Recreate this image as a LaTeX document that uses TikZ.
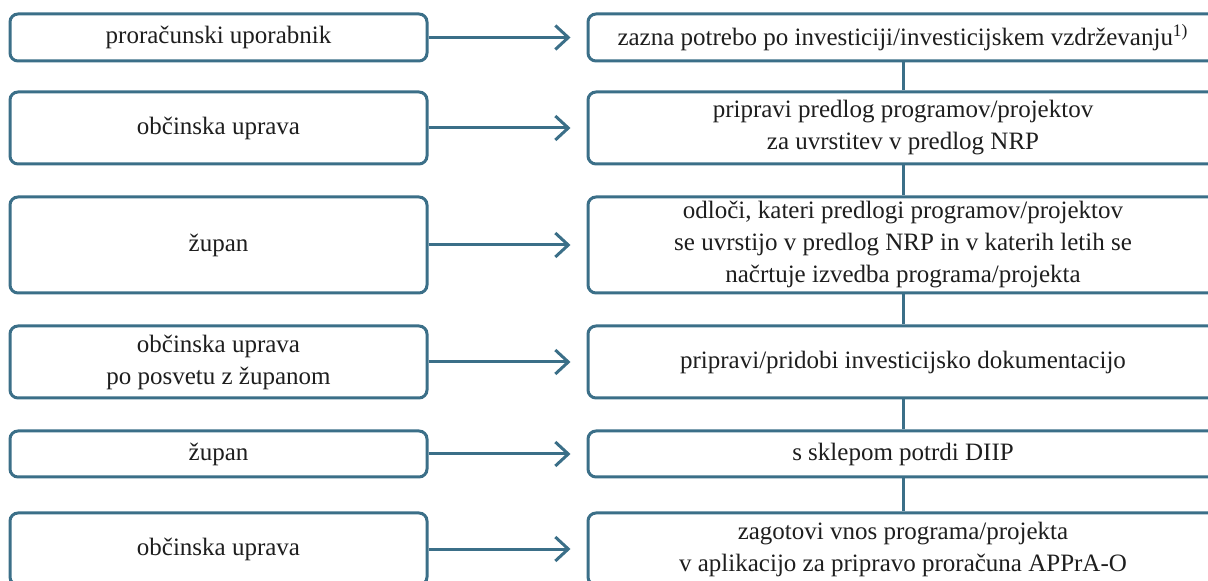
\documentclass[tikz,border=0pt]{standalone}
\usepackage{fontspec}
\setmainfont{Liberation Serif}
\usetikzlibrary{arrows.meta}
\definecolor{stepTeal}{HTML}{3B6F88}
\definecolor{inkGray}{HTML}{1E1E1E}
\tikzset{
  every node/.style={font=\fontsize{12.5}{16}\selectfont, text=inkGray},
  actorbox/.style={draw=stepTeal, line width=1.5pt, rounded corners=4pt, fill=white, align=center, minimum width=208.5pt, inner sep=2pt},
  stepbox/.style={draw=stepTeal, line width=1.5pt, rounded corners=4pt, fill=white, align=center, minimum width=315pt, inner sep=2pt},
  flow/.style={-{Straight Barb[length=6.5pt,width=12pt]}, line width=1.5pt, draw=stepTeal, shorten >=8pt},
  link/.style={line width=1.5pt, draw=stepTeal},
}

\begin{document}
\begin{tikzpicture}[x=0.5pt,y=-0.5pt]
  \useasboundingbox (0,0) rectangle (1208,581);

  % who
  \node[actorbox, minimum height=23.5pt] (a1) at (218.5,37.5) {proračunski uporabnik};
  \node[actorbox, minimum height=36pt] (a2) at (218.5,128) {občinska uprava};
  \node[actorbox, minimum height=48pt] (a3) at (218.5,245) {župan};
  \node[actorbox, minimum height=36pt] (a4) at (218.5,362) {občinska uprava\\po posvetu z županom};
  \node[actorbox, minimum height=23pt] (a5) at (218.5,454) {župan};
  \node[actorbox, minimum height=36pt] (a6) at (218.5,549) {občinska uprava};

  % what
  \node[stepbox, minimum height=23.5pt] (s1) at (903,37.5) {zazna potrebo po investiciji/investicijskem vzdrževanju\textsuperscript{1)}};
  \node[stepbox, minimum height=36pt] (s2) at (903,128) {pripravi predlog programov/projektov\\za uvrstitev v predlog NRP};
  \node[stepbox, minimum height=48pt] (s3) at (903,245) {odloči, kateri predlogi programov/projektov\\se uvrstijo v predlog NRP in v katerih letih se\\načrtuje izvedba programa/projekta};
  \node[stepbox, minimum height=36pt] (s4) at (903,362) {pripravi/pridobi investicijsko dokumentacijo};
  \node[stepbox, minimum height=23pt] (s5) at (903,454) {s sklepom potrdi DIIP};
  \node[stepbox, minimum height=36pt] (s6) at (903,549) {zagotovi vnos programa/projekta\\v aplikacijo za pripravo proračuna APPrA-O};

  \foreach \i in {1,...,6} {\draw[flow] (a\i.east) -- (s\i.west);}
  \foreach \i/\j in {1/2,2/3,3/4,4/5,5/6} {\draw[link] (s\i.south) -- (s\j.north);}
\end{tikzpicture}
\end{document}
